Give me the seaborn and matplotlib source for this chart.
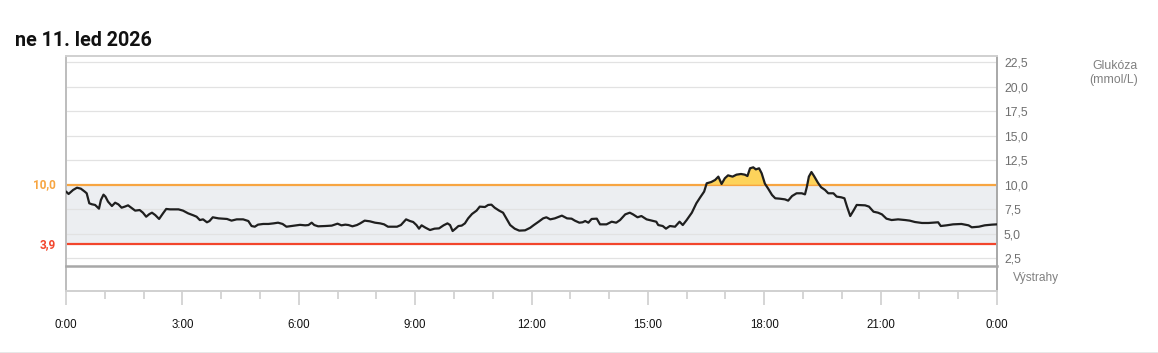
import numpy as np
import seaborn as sns
import matplotlib.pyplot as plt
from matplotlib.ticker import MultipleLocator, FixedLocator


# minutes after midnight and sensor glucose (mmol/L)
minutes = [
    0, 4, 11, 17, 23, 29, 32, 36, 40, 45, 51, 54, 58, 61, 65, 71, 76, 81, 86, 91,
    96, 102, 107, 114, 119, 124, 129, 133, 138, 144, 150, 155, 161, 174, 181, 189,
    197, 202, 207, 212, 218, 222, 227, 236, 249, 256, 264, 274, 282, 287, 292, 297,
    305, 313, 321, 328, 335, 341, 349, 357, 362,
    370, 375, 380, 384, 390, 401, 411, 420, 426, 432, 437, 443, 450, 455, 462, 470,
    478, 486, 492, 498, 504, 512, 518, 526, 532, 537, 542, 546, 550, 556, 563, 570,
    577, 584, 590, 594, 598, 603, 607, 612, 617, 622, 628, 635, 640, 648, 653, 658,
    663, 670, 676, 682, 687, 694, 701, 710, 718,
    723, 731, 738, 743, 749, 756, 767, 775, 782, 787, 794, 799, 803, 808, 813, 821,
    826, 836, 844, 851, 857, 865, 872, 877, 884, 890, 898, 906, 913, 916, 923, 928,
    934, 942, 949, 954, 960, 968, 975, 981, 987, 991, 998, 1004, 1009, 1014, 1019,
    1024, 1031, 1037, 1044, 1050, 1054, 1058, 1063, 1067, 1072, 1076, 1081,
    1086, 1092, 1097, 1104, 1112, 1117, 1123, 1130, 1138, 1143, 1146, 1149, 1153,
    1157, 1163, 1168, 1174, 1179, 1187, 1192, 1199, 1204, 1208, 1213, 1218, 1223,
    1236, 1242, 1249, 1256, 1262, 1269, 1277, 1287, 1298, 1305, 1313, 1324, 1334,
    1341, 1349, 1353, 1362, 1372, 1385, 1396, 1401, 1412, 1421, 1432, 1440,
]
glucose = [
    9.3, 9.05, 9.46, 9.69, 9.59, 9.29, 9.12, 8.1, 8.0, 7.93, 7.55, 8.44, 8.98, 8.78,
    8.27, 7.82, 8.16, 7.99, 7.65, 7.76, 7.89, 7.59, 7.35, 7.41, 7.14, 6.73, 7.0, 7.14,
    6.9, 6.5, 7.07, 7.52, 7.48, 7.48, 7.35, 7.07, 6.87, 6.73, 6.39, 6.46, 6.16, 6.29,
    6.67, 6.56, 6.5, 6.33, 6.46, 6.46, 6.29, 5.78, 5.71, 5.92, 5.99, 5.99, 6.05, 6.12,
    5.99, 5.71, 5.78, 5.85, 5.9,
    5.85, 5.88, 6.12, 5.88, 5.75, 5.78, 5.82, 6.02, 5.85, 5.92, 5.88, 5.75, 5.88,
    6.05, 6.33, 6.26, 6.12, 6.05, 5.95, 5.71, 5.71, 5.71, 5.88, 6.46, 6.29, 6.19,
    5.88, 5.51, 5.85, 5.61, 5.37, 5.51, 5.54, 5.85, 6.05, 5.88, 5.27, 5.54, 5.78,
    5.82, 6.05, 6.56, 7.01, 7.35, 7.76, 7.72, 7.93, 7.96, 7.65, 7.35, 7.14, 6.46,
    5.88, 5.51, 5.31, 5.34, 5.6,
    5.85, 6.22, 6.56, 6.67, 6.46, 6.56, 6.84, 6.56, 6.53, 6.33, 6.12, 6.16, 6.29,
    6.12, 6.5, 6.53, 5.95, 5.95, 6.22, 6.12, 6.39, 6.97, 7.14, 6.97, 6.67, 6.8, 6.46,
    6.33, 6.22, 5.88, 5.78, 5.51, 5.78, 5.71, 6.22, 5.88, 6.39, 7.14, 8.1, 8.71,
    9.29, 10.14, 10.27, 10.48, 10.82, 10.07, 10.65, 10.95, 10.82, 11.02, 11.09,
    11.02, 10.88, 11.67, 11.77, 11.56, 11.67, 11.16, 10.1,
    9.6, 8.95, 8.61, 8.57, 8.5, 8.37, 8.84, 9.12, 9.12, 9.01, 9.8, 10.82, 11.29,
    10.88, 10.2, 9.73, 9.46, 9.12, 9.12, 8.78, 8.71, 8.61, 7.76, 6.8, 7.35, 7.93,
    7.89, 7.76, 7.24, 7.14, 6.97, 6.53, 6.39, 6.46, 6.39, 6.33, 6.19, 6.09, 6.09,
    6.12, 6.16, 5.78, 5.85, 5.95, 5.99, 5.85, 5.65, 5.71, 5.85, 5.92, 5.95,
]

y_ticks = [2.5, 5.0, 7.5, 10.0, 12.5, 15.0, 17.5, 20.0, 22.5]
x_ticks = [0, 3, 6, 9, 12, 15, 18, 21, 24]
x_labels = ["0:00", "3:00", "6:00", "9:00", "12:00", "15:00", "18:00", "21:00", "0:00"]
low_limit = 3.9
high_limit = 10.0

hours = np.array(minutes) / 60
values = np.array(glucose)

sns.set_style("white")
plt.rcParams["font.family"] = ["Liberation Sans", "DejaVu Sans"]

orange = "#f7a541"
red = "#f2452c"

fig = plt.figure(figsize=(11.58, 3.53), dpi=100)
W, H = 1158, 353
ax = fig.add_axes([66 / W, 87 / H, 931 / W, 210 / H])
ax2 = fig.add_axes([66 / W, 62 / H, 931 / W, 25 / H], sharex=ax)

# target band, grid and limit lines
ax.axhspan(low_limit, high_limit, color="#eceef1", zorder=0, lw=0)
for v in y_ticks:
    if v != high_limit:
        ax.axhline(v, color="#e2e2e2", lw=0.9, zorder=0.5)
ax.axhline(high_limit, color=orange, lw=1.6, zorder=1)
ax.axhline(low_limit, color=red, lw=1.6, zorder=1)

# above-range area
ax.fill_between(hours, values, high_limit, where=values > high_limit,
                interpolate=True, color="#fdd35b", lw=0, zorder=1.5)

sns.lineplot(x=hours, y=values, ax=ax, color="#1f1f1f", linewidth=1.6, zorder=3)

ax.set_xlim(0, 24)
ax.set_ylim(1.7, 23.13)
ax.set_xlabel("")
ax.set_ylabel("")
ax.yaxis.tick_right()
ax.set_yticks(y_ticks)
ax.set_yticklabels([f"{v:.1f}".replace(".", ",") for v in y_ticks])
ax.tick_params(axis="y", length=0, pad=5, labelsize=8.8, labelcolor="#6f6f6f")
ax.tick_params(axis="x", bottom=False, labelbottom=False)
ax.grid(False)

for name, col in [("top", "#d0d0d0"), ("left", "#bdbdbd"), ("right", "#a8a8a8")]:
    ax.spines[name].set_color(col)
    ax.spines[name].set_linewidth(1.4)
ax.spines["bottom"].set_visible(False)

# left labels for the limits
ax.text(-0.0105, high_limit, "10,0", transform=ax.get_yaxis_transform(),
        ha="right", va="center", color=orange, fontsize=8.5,
        fontweight="bold", family="Roboto")
ax.text(-0.0105, low_limit, "3,9", transform=ax.get_yaxis_transform(),
        ha="right", va="center", color=red, fontsize=8.5,
        fontweight="bold", family="Roboto")

# alerts strip
ax2.set_ylim(0, 1)
ax2.set_yticks([])
ax2.xaxis.set_major_locator(FixedLocator(x_ticks))
ax2.xaxis.set_minor_locator(MultipleLocator(1))
ax2.set_xticklabels(x_labels)
ax2.tick_params(axis="x", which="major", length=10, width=1.3, color="#d2d2d2",
                pad=10, labelsize=8.3, labelcolor="#111111", bottom=True)
ax2.tick_params(axis="x", which="minor", length=5.5, width=1.3, color="#d2d2d2",
                bottom=True)
ax2.spines["top"].set_color("#a8a8a8")
ax2.spines["top"].set_linewidth(1.8)
ax2.spines["bottom"].set_color("#d0d0d0")
ax2.spines["bottom"].set_linewidth(1.4)
ax2.spines["left"].set_color("#bdbdbd")
ax2.spines["left"].set_linewidth(1.4)
ax2.spines["right"].set_color("#a8a8a8")
ax2.spines["right"].set_linewidth(1.4)

fig.text(15 / W, 1 - 46 / H, "ne 11. led 2026", fontsize=14.2, fontweight="bold",
         family="Roboto", color="#111111", va="baseline", ha="left")
fig.text(1138 / W, 1 - 60 / H, "Glukóza\n(mmol/L)", fontsize=8.8, color="#808080",
         ha="right", va="top", multialignment="right", linespacing=1.25)
fig.text(1013 / W, 1 - 278 / H, "Výstrahy", fontsize=8.6, color="#808080",
         ha="left", va="center")

fig.add_artist(plt.Line2D([0, 1], [0.5 / H, 0.5 / H], color="#e4e4e4", lw=1.2))

fig.savefig("out.png", dpi=100)
